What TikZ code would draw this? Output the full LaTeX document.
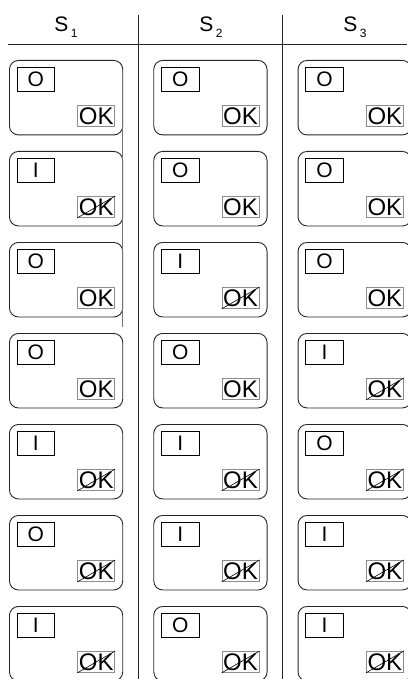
\documentclass[tikz,border=0pt]{standalone}
\usepackage{fontspec}
\setmainfont{Liberation Sans}
\usetikzlibrary{calc}
\newcommand\mkcell[5]{%
  \node[cell] (#1) at (#2,#3) {};
  \node[inlab] (#1-l) at ($(#1.north west)+(7.7,7.3)$) {#4};
  \node[oklab] (#1-ok) at ($(#1.north west)+(68.3,45)$) {OK};
  \ifnum#5=1 \draw[slash] (#1-ok.south west) -- (#1-ok.north east);\fi
}
\begin{document}
\begin{tikzpicture}[x=1pt,y=-1pt,
  cell/.style={draw=black!85, line width=0.9pt, rounded corners=9pt, minimum width=113.3pt, minimum height=74.5pt, inner sep=0pt, anchor=north west},
  inlab/.style={draw=black, line width=0.8pt, minimum width=37.6pt, minimum height=23.4pt, inner sep=0pt, anchor=north west, font=\fontsize{21}{21}\selectfont},
  oklab/.style={draw=black!45, line width=0.9pt, minimum width=37pt, minimum height=21pt, inner sep=0pt, anchor=north west, font=\fontsize{24}{24}\selectfont},
  slash/.style={draw=black, line width=0.6pt},
  rule/.style={draw=black!85, line width=0.9pt},
  head/.style={font=\fontsize{21}{21}\selectfont, anchor=base}]
\useasboundingbox (0,0) rectangle (407,679);
% headers
\node[head] (h1) at (66,31.7) {S\hspace{2.5pt}\raisebox{-6pt}{\fontsize{12}{12}\selectfont 1}};
\node[head] (h2) at (211,31.7) {S\hspace{2.5pt}\raisebox{-6pt}{\fontsize{12}{12}\selectfont 2}};
\node[head] (h3) at (355,31.7) {S\hspace{2.5pt}\raisebox{-6pt}{\fontsize{12}{12}\selectfont 3}};
% rules
\coordinate (hl) at (8,44.3);
\coordinate (hr) at (407,44.3);
\draw[rule] (hl) -- (hr);
\coordinate (v1t) at (138.3,15);
\coordinate (v1b) at (138.3,679);
\coordinate (v2t) at (282.7,15);
\coordinate (v2b) at (282.7,679);
\draw[rule] (v1t) -- (v1b);
\draw[rule] (v2t) -- (v2b);
% cells
\foreach \r/\la/\ca/\lb/\cb/\lc/\cc in {
  1/O/0/O/0/O/0,
  2/I/1/O/0/O/0,
  3/O/0/I/1/O/0,
  4/O/0/O/0/I/1,
  5/I/1/I/1/O/1,
  6/O/1/I/1/I/1,
  7/I/1/O/1/I/1}{
  \pgfmathsetmacro\yy{60+91*(\r-1)}
  \mkcell{a\r}{9}{\yy}{\la}{\ca}
  \mkcell{b\r}{153.3}{\yy}{\lb}{\cb}
  \mkcell{c\r}{297.6}{\yy}{\lc}{\cc}
}
% thin grey line in column 1
\coordinate (g1) at (121.9,122);
\coordinate (g2) at (121.9,327);
\draw[draw=black!55, line width=0.7pt] (g1) -- (g2);
\end{tikzpicture}
\end{document}
